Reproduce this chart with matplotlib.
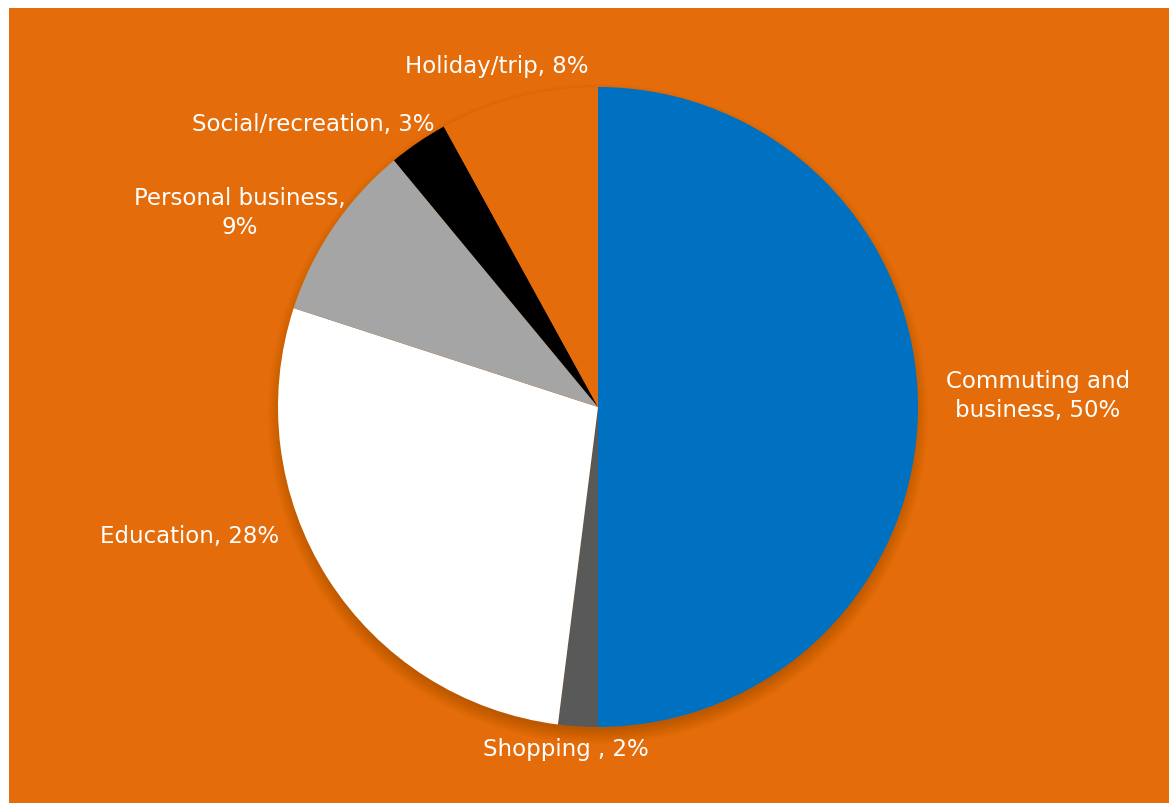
import numpy as np
import matplotlib.pyplot as plt
from matplotlib.patches import Circle, Rectangle

# trip purposes, clockwise from twelve o'clock
purposes = ['Commuting and\nbusiness', 'Shopping ', 'Education',
            'Personal business,\n', 'Social/recreation', 'Holiday/trip']
shares = [50, 2, 28, 9, 3, 8]
colors = ['#0070C0', '#595959', '#FFFFFF', '#A5A5A5', '#000000', '#E46C0A']

bg = '#E46C0A'
W, H = 1169, 804

fig = plt.figure(figsize=(W / 100, H / 100), dpi=100)
fig.patch.set_facecolor('white')
# orange chart area, white margin only on top and left
fig.add_artist(Rectangle((9 / W, 0), 1, 1 - 9 / H, transform=fig.transFigure,
                         facecolor=bg, edgecolor='none', zorder=0))

ax = fig.add_axes([0, 0, 1, 1])
ax.patch.set_alpha(0)

cx, cy, r = 598, 396, 320

# soft drop shadow, mostly below the pie
for k in range(20):
    ax.add_patch(Circle((cx, cy - 7), r + 10 - 0.75 * k, facecolor='#6a2c00',
                        edgecolor='none', alpha=0.012, zorder=1))

wedges, _ = ax.pie(shares, colors=colors, startangle=90, counterclock=False,
                   center=(cx, cy), radius=r, frame=True,
                   wedgeprops=dict(linewidth=0))
for w in wedges:
    w.set_zorder(2)
ax.set_xlim(0, W)
ax.set_ylim(0, H)
ax.set_aspect('equal')
ax.axis('off')

label_pos = [(1038, 396), (566, 750), (190, 537), (240, 213), (313, 125), (497, 67)]
for name, val, (px, py) in zip(purposes, shares, label_pos):
    if name.endswith('\n'):
        txt = f'{name}{val}%'
    else:
        txt = f'{name}, {val}%'
    ax.text(px, H - py, txt, color='white', fontsize=16.5, family='DejaVu Sans',
            ha='center', va='center', linespacing=1.3, zorder=3)

fig.savefig('out.png', dpi=100, facecolor=fig.get_facecolor())
